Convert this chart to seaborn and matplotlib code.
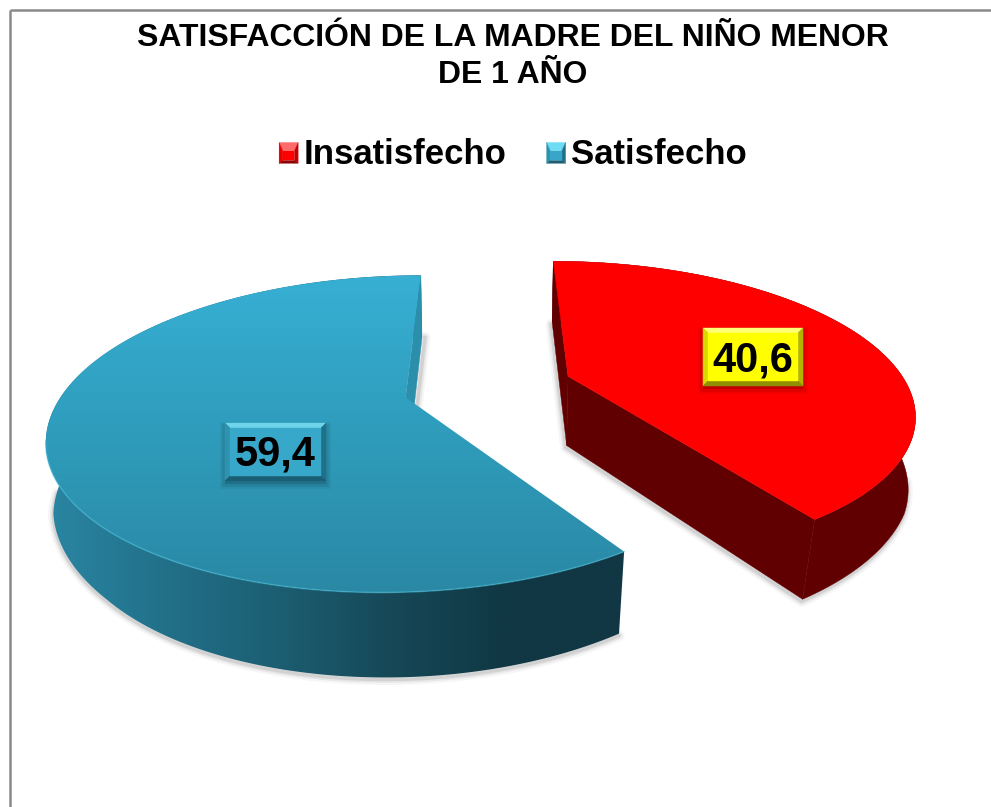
import numpy as np
import matplotlib
matplotlib.use("Agg")
import matplotlib.pyplot as plt
from matplotlib.legend_handler import HandlerBase
from matplotlib.patches import Patch, Polygon
import seaborn as sns

# ---------- data ----------
categories = ["Insatisfecho", "Satisfecho"]
values = [40.6, 59.4]
value_labels = ["40,6", "59,4"]
title_text = "SATISFACCIÓN DE LA MADRE DEL NIÑO MENOR\nDE 1 AÑO"

# ---------- style ----------
sns.set_style("white")
plt.rcParams["font.family"] = ["Liberation Sans", "DejaVu Sans"]
W, H = 991, 807
RED, RED_DARK = "#ff0000", "#600000"
BLUE_TOP = ["#37b0d4", "#2f9cbc", "#2a88a4"]
BLUE_SIDE = ["#2a86a3", "#22718a", "#1c5e72", "#164857", "#103743", "#103743"]

# Perspective of the pie plane
VX, VY = 487.0, -255.0
Y0, K, AX = 397.0, 0.23, 345.0
CENTER = np.array([0.0035, -0.07])
EXPLODE = 0.25


def project(X, Y):
    w = 1 - K * np.asarray(Y)
    D = Y0 - VY
    return VX + AX * np.asarray(X) / w, VY + D / w


def lower(x, y):
    depth = 0.0726 * y + 42
    shrink = np.interp(y, [440, 520], [0.983, 0.963])
    return VX + (x - VX) * shrink, y + depth


def slice_geometry(start, stop):
    mid = np.radians((start + stop) / 2)
    c = CENTER + EXPLODE * np.array([np.sin(mid), -np.cos(mid)])
    t = np.radians(np.linspace(start, stop, 300))
    ax_, ay_ = project(c[0] + np.sin(t), c[1] - np.cos(t))
    ox, oy = project(c[0], c[1])
    return ox, oy, ax_, ay_


def gradient(ax, poly, colors, extent, horizontal, z):
    cmap = sns.blend_palette(colors, as_cmap=True)
    g = np.linspace(0, 1, 256)
    arr = g[None, :] if horizontal else g[:, None]
    im = ax.imshow(arr, cmap=cmap, extent=extent, aspect="auto",
                   origin="upper", zorder=z, interpolation="bilinear")
    patch = Polygon(poly, closed=True, transform=ax.transData, fc="none", ec="none")
    ax.add_patch(patch)
    im.set_clip_path(patch)
    return im


def soft_shadow(ax, xs, ys, dx=0, dy=2):
    for lw, a in [(8, 0.035), (5, 0.06), (2.5, 0.09)]:
        ax.plot(np.asarray(xs) + dx, np.asarray(ys) + dy, color=(0, 0, 0, a), lw=lw,
                solid_joinstyle="round", solid_capstyle="round", zorder=1)


def bevel_polys(x0, ytop, x1, ybot, bx, by_top, by_bot):
    """Top, left, right, bottom trapezoids and the face of a bevelled box."""
    it, ib = ytop + by_top, ybot + by_bot
    return [
        [(x0, ytop), (x1, ytop), (x1 - bx, it), (x0 + bx, it)],
        [(x0, ytop), (x0 + bx, it), (x0 + bx, ib), (x0, ybot)],
        [(x1, ytop), (x1 - bx, it), (x1 - bx, ib), (x1, ybot)],
        [(x0, ybot), (x0 + bx, ib), (x1 - bx, ib), (x1, ybot)],
        [(x0 + bx, it), (x1 - bx, it), (x1 - bx, ib), (x0 + bx, ib)],
    ]


def bevel_box(ax, x0, y0, x1, y1, b, colors, z=10):
    for lw, a in [(7, 0.05), (4, 0.08)]:
        ax.add_patch(Polygon([(x0, y0 + 4), (x1, y0 + 4), (x1, y1 + 3), (x0, y1 + 3)],
                             fc=(0, 0, 0, a), ec=(0, 0, 0, a), lw=lw, zorder=z - 1))
    for p, c in zip(bevel_polys(x0, y0, x1, y1, b, b, -b), colors):
        ax.add_patch(Polygon(p, closed=True, fc=c, ec=c, lw=0.3, zorder=z))


LEGEND_COLORS = {
    "Insatisfecho": ["#ff6a6a", "#e80000", "#c40000", "#900000", "#ff0000"],
    "Satisfecho": ["#6fdcf5", "#2f93b0", "#21708a", "#1b5f75", "#38a6c8"],
}


class BevelHandler(HandlerBase):
    def create_artists(self, legend, orig_handle, xdescent, ydescent, width, height,
                       fontsize, trans):
        x0, y0 = -xdescent, -ydescent - 1.2
        x1, y1 = x0 + width, y0 + height
        bx = width * 0.2
        cols = LEGEND_COLORS[orig_handle.get_label()]
        artists = []
        for p, c in zip(bevel_polys(x0, y1, x1, y0, bx, -height * 0.4, height * 0.14), cols):
            artists.append(Polygon(p, closed=True, fc=c, ec=c, lw=0.2, transform=trans))
        return artists


# ---------- figure ----------
fig = plt.figure(figsize=(W / 100, H / 100), dpi=100, facecolor="white")
ax = fig.add_axes([0, 0, 1, 1])
ax.set_axis_off()

# Chart frame
ax.plot([10, 10], [H, 10], color="#8a8a8a", lw=1.8, zorder=0, solid_capstyle="butt")
ax.plot([10, W], [10, 10], color="#8a8a8a", lw=1.8, zorder=0, solid_capstyle="butt")

# Slices
shares = np.array(values) / np.sum(values) * 360
rx, ry, rax, ray = slice_geometry(0, shares[0])
bx, by, bax, bay = slice_geometry(shares[0], 360)

# Blue geometry
b_top = np.column_stack([np.r_[bx, bax], np.r_[by, bay]])
blx, bly = lower(bax, bay)
b_side = np.column_stack([np.r_[bax, blx[::-1]], np.r_[bay, bly[::-1]]])
ob_lx, ob_ly = lower(bx, by)
b_wall = [(bax[-1], bay[-1]), (blx[-1], bly[-1]), (ob_lx, ob_ly), (bx, by)]

# Red geometry
r_top = np.column_stack([np.r_[rx, rax], np.r_[ry, ray]])
rlx, rly = lower(rax, ray)
r_side = np.column_stack([np.r_[rax, rlx[::-1]], np.r_[ray, rly[::-1]]])
or_lx, or_ly = lower(rx, ry)
r_wall_a = [(rax[0], ray[0]), (rlx[0], rly[0]), (or_lx, or_ly), (rx, ry)]
r_wall_b = [(rx, ry), (or_lx, or_ly), (rlx[-1], rly[-1]), (rax[-1], ray[-1])]

# Shadows only along the lower silhouette
keep_b = bly > 490
soft_shadow(ax, blx[keep_b], bly[keep_b])
soft_shadow(ax, [blx[-1], ob_lx], [bly[-1], ob_ly], dx=3, dy=0)
keep_r = rly > 480
soft_shadow(ax, np.r_[rlx[0], or_lx, rlx[-1], rlx[keep_r][::-1]],
            np.r_[rly[0], or_ly, rly[-1], rly[keep_r][::-1]], dx=-1, dy=2)

# Blue slice
gradient(ax, b_side, BLUE_SIDE, (45, 625, 700, 270), True, 2)
ax.add_patch(Polygon(b_wall, closed=True, fc="#2b8fab", ec="#2b8fab", lw=0.3, zorder=3))
gradient(ax, b_top, BLUE_TOP, (40, 630, 595, 272), False, 4)
ax.plot(bax[bay > 440], bay[bay > 440], color="#3fb4d2", lw=1.2, alpha=0.55, zorder=5)

# Red slice
ax.add_patch(Polygon(r_side, closed=True, fc=RED_DARK, ec=RED_DARK, lw=0.3, zorder=2))
for wall in (r_wall_a, r_wall_b):
    ax.add_patch(Polygon(wall, closed=True, fc=RED_DARK, ec=RED_DARK, lw=0.3, zorder=3))
ax.add_patch(Polygon(r_top, closed=True, fc=RED, ec=RED, lw=0.3, zorder=4))

# Value labels
bevel_box(ax, 703, 328, 803, 386, 5,
          ["#ffff73", "#d9d900", "#b3b300", "#8f8f00", "#ffff00"])
bevel_box(ax, 225, 423, 326, 481, 5,
          ["#6fd3ea", "#2f93b0", "#21708a", "#1b5f75", "#38a8ca"])
ax.text(753, 360, value_labels[0], fontsize=30, fontweight="bold", color="black",
        ha="center", va="center", zorder=12)
ax.text(275.5, 455, value_labels[1], fontsize=30, fontweight="bold", color="black",
        ha="center", va="center", zorder=12)

# Title
ax.text(512.5, 56.5, title_text, fontsize=22.95, fontweight="bold", color="black",
        ha="center", va="center", linespacing=1.3, zorder=12)

# Legend
handles = [Patch(facecolor=c, label=n) for n, c in zip(categories, [RED, BLUE_TOP[0]])]
leg = ax.legend(handles=handles, ncol=2, loc="center", bbox_to_anchor=(513, 154),
                bbox_transform=ax.transData, frameon=False, fontsize=25,
                handler_map={Patch: BevelHandler()}, handlelength=0.55, handleheight=0.55,
                handletextpad=0.16, columnspacing=1.15, borderpad=0, borderaxespad=0)
for t in leg.get_texts():
    t.set_fontweight("bold")
    t.set_color("black")

ax.set_xlim(0, W)
ax.set_ylim(H, 0)
fig.savefig("out.png", dpi=100, facecolor="white")
